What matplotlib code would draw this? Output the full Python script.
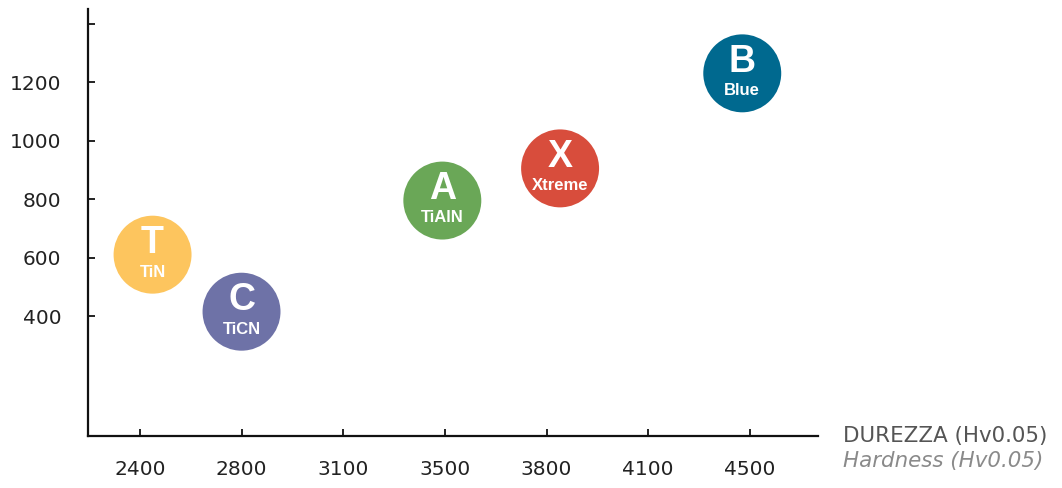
import numpy as np
import matplotlib
matplotlib.use("Agg")
import matplotlib.pyplot as plt

# Data
tick_values = [2400, 2800, 3100, 3500, 3800, 4100, 4500]
y_ticks = [400, 600, 800, 1000, 1200, 1400]
y_labels = ["400", "600", "800", "1000", "1200", ""]
letters = ["T", "C", "A", "X", "B"]
names = ["TiN", "TiCN", "TiAlN", "Xtreme", "Blue"]
hardness = [2450, 2800, 3490, 3840, 4470]
temperature = [610, 415, 795, 905, 1230]
colors = ["#FDC55E", "#6E72A7", "#6AA757", "#D84D3C", "#00698F"]

fig = plt.figure(figsize=(10.62, 4.88), dpi=100)
ax = fig.add_axes([88/1062, 52/488, 730/1062, 427/488])

xpos = np.interp(hardness, tick_values, np.arange(len(tick_values)))
ax.scatter(xpos, temperature, s=3150, c=colors, edgecolors="none", zorder=3)

for x, y, l, n in zip(xpos, temperature, letters, names):
    ax.annotate(l, (x, y), xytext=(0, 8.5), textcoords="offset points",
                ha="center", va="center", color="white", fontsize=27,
                fontweight="bold", family="Liberation Sans", zorder=4)
    ax.annotate(n, (x, y), xytext=(0, -12.5), textcoords="offset points",
                ha="center", va="center", color="white", fontsize=12,
                fontweight="bold", family="Liberation Sans", zorder=4)

ax.set_xlim(-0.51, 6.67)
ax.set_ylim(-10, 1450)
ax.set_xticks(np.arange(len(tick_values)))
ax.set_xticklabels([str(v) for v in tick_values])
ax.set_yticks(y_ticks)
ax.set_yticklabels(y_labels)

for s in ["top", "right"]:
    ax.spines[s].set_visible(False)
for s in ["left", "bottom"]:
    ax.spines[s].set_linewidth(1.6)
    ax.spines[s].set_color("#111111")

ax.tick_params(axis="both", direction="in", length=5, width=1.3, color="#111111",
               labelsize=14.5, labelcolor="#222222")
ax.tick_params(axis="y", pad=19)
ax.tick_params(axis="x", pad=17)

fig.text(843/1062, 1 - 436/488, "DUREZZA (Hv0.05)", ha="left", va="center",
         fontsize=15.4, color="#555555", family="DejaVu Sans")
fig.text(843/1062, 1 - 461/488, "Hardness (Hv0.05)", ha="left", va="center",
         fontsize=15.4, color="#8a8a8a", style="italic", family="DejaVu Sans")

fig.savefig("out.png", dpi=100)
